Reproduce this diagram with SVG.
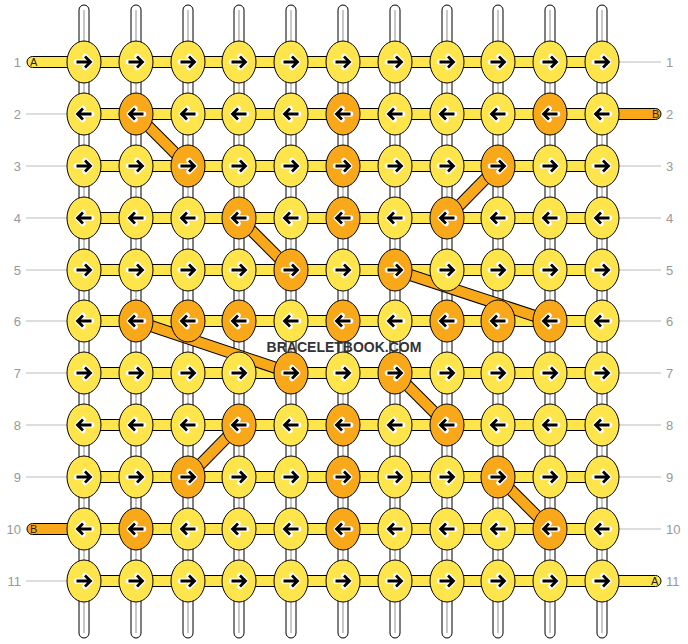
<svg xmlns="http://www.w3.org/2000/svg" xmlns:xlink="http://www.w3.org/1999/xlink" width="688" height="644" viewBox="0 0 688 644">
<style>
.strand{fill:#fff;stroke:#000;stroke-width:1}
.core{stroke:#c8c8c8;stroke-width:2}
.hc{fill:#FFE54C;stroke:#000;stroke-width:1}
.y{fill:#FFE54C;stroke:#000;stroke-width:1}
.o{fill:#F9A81A;stroke:#000;stroke-width:1}
.lbl{font-family:"Liberation Sans",Arial,sans-serif;font-size:13px;fill:#999}
.gl{stroke:#bbb;stroke-width:1}
.sl{font-family:"Liberation Sans",Arial,sans-serif;font-size:11px;fill:#222}
.dout{stroke:#000;stroke-width:12;stroke-linecap:butt}
.din{stroke:#F9A81A;stroke-width:10;stroke-linecap:butt}
</style>
<defs>
<g id="ar"><path d="M-7.5,0H6.5M1,-5.5L6.5,0L1,5.5" fill="none" stroke="#fff" stroke-width="5.5" stroke-linejoin="round" stroke-linecap="round"/><path d="M-7.5,0H6.5M1,-5.5L6.5,0L1,5.5" fill="none" stroke="#000" stroke-width="2.8" stroke-linejoin="miter"/></g>
<g id="al"><path d="M7.5,0H-6.5M-1,-5.5L-6.5,0L-1,5.5" fill="none" stroke="#fff" stroke-width="5.5" stroke-linejoin="round" stroke-linecap="round"/><path d="M7.5,0H-6.5M-1,-5.5L-6.5,0L-1,5.5" fill="none" stroke="#000" stroke-width="2.8" stroke-linejoin="miter"/></g>
</defs>
<rect width="688" height="644" fill="#fff"/>
<g id="vertical-strands">
<rect class="strand" x="79" y="5" width="10" height="633" rx="5"/><line class="core" x1="84" y1="10" x2="84" y2="633"/>
<rect class="strand" x="131" y="5" width="10" height="633" rx="5"/><line class="core" x1="136" y1="10" x2="136" y2="633"/>
<rect class="strand" x="183" y="5" width="10" height="633" rx="5"/><line class="core" x1="188" y1="10" x2="188" y2="633"/>
<rect class="strand" x="234" y="5" width="10" height="633" rx="5"/><line class="core" x1="239" y1="10" x2="239" y2="633"/>
<rect class="strand" x="286" y="5" width="10" height="633" rx="5"/><line class="core" x1="291" y1="10" x2="291" y2="633"/>
<rect class="strand" x="338" y="5" width="10" height="633" rx="5"/><line class="core" x1="343" y1="10" x2="343" y2="633"/>
<rect class="strand" x="390" y="5" width="10" height="633" rx="5"/><line class="core" x1="395" y1="10" x2="395" y2="633"/>
<rect class="strand" x="442" y="5" width="10" height="633" rx="5"/><line class="core" x1="447" y1="10" x2="447" y2="633"/>
<rect class="strand" x="493" y="5" width="10" height="633" rx="5"/><line class="core" x1="498" y1="10" x2="498" y2="633"/>
<rect class="strand" x="545" y="5" width="10" height="633" rx="5"/><line class="core" x1="550" y1="10" x2="550" y2="633"/>
<rect class="strand" x="597" y="5" width="10" height="633" rx="5"/><line class="core" x1="602" y1="10" x2="602" y2="633"/>
</g>
<g id="labels">
<text class="lbl" x="21" y="66.5" text-anchor="end">1</text>
<text class="lbl" x="21" y="118.5" text-anchor="end">2</text>
<text class="lbl" x="21" y="170.5" text-anchor="end">3</text>
<text class="lbl" x="21" y="222.5" text-anchor="end">4</text>
<text class="lbl" x="21" y="274.5" text-anchor="end">5</text>
<text class="lbl" x="21" y="325.5" text-anchor="end">6</text>
<text class="lbl" x="21" y="377.5" text-anchor="end">7</text>
<text class="lbl" x="21" y="429.5" text-anchor="end">8</text>
<text class="lbl" x="21" y="481.5" text-anchor="end">9</text>
<text class="lbl" x="21" y="533.5" text-anchor="end">10</text>
<text class="lbl" x="21" y="585.5" text-anchor="end">11</text>
<text class="lbl" x="666" y="66.5">1</text>
<text class="lbl" x="666" y="118.5">2</text>
<text class="lbl" x="666" y="170.5">3</text>
<text class="lbl" x="666" y="222.5">4</text>
<text class="lbl" x="666" y="274.5">5</text>
<text class="lbl" x="666" y="325.5">6</text>
<text class="lbl" x="666" y="377.5">7</text>
<text class="lbl" x="666" y="429.5">8</text>
<text class="lbl" x="666" y="481.5">9</text>
<text class="lbl" x="666" y="533.5">10</text>
<text class="lbl" x="666" y="585.5">11</text>
<line class="gl" x1="26" y1="114" x2="67" y2="114"/>
<line class="gl" x1="26" y1="166" x2="67" y2="166"/>
<line class="gl" x1="26" y1="218" x2="67" y2="218"/>
<line class="gl" x1="26" y1="270" x2="67" y2="270"/>
<line class="gl" x1="26" y1="321" x2="67" y2="321"/>
<line class="gl" x1="26" y1="373" x2="67" y2="373"/>
<line class="gl" x1="26" y1="425" x2="67" y2="425"/>
<line class="gl" x1="26" y1="477" x2="67" y2="477"/>
<line class="gl" x1="26" y1="581" x2="67" y2="581"/>
<line class="gl" x1="619" y1="62" x2="661" y2="62"/>
<line class="gl" x1="619" y1="166" x2="661" y2="166"/>
<line class="gl" x1="619" y1="218" x2="661" y2="218"/>
<line class="gl" x1="619" y1="270" x2="661" y2="270"/>
<line class="gl" x1="619" y1="321" x2="661" y2="321"/>
<line class="gl" x1="619" y1="373" x2="661" y2="373"/>
<line class="gl" x1="619" y1="425" x2="661" y2="425"/>
<line class="gl" x1="619" y1="477" x2="661" y2="477"/>
<line class="gl" x1="619" y1="529" x2="661" y2="529"/>
</g>
<g id="connectors">
<rect class="hc" x="27" y="56.5" width="70" height="11" rx="5.5"/>
<rect class="o" x="590" y="108.5" width="71" height="11" rx="5.5"/>
<rect class="o" x="27" y="523.5" width="70" height="11" rx="5.5"/>
<rect class="hc" x="590" y="575.5" width="71" height="11" rx="5.5"/>
<rect class="hc" x="84" y="56.5" width="518" height="11"/>
<rect class="hc" x="84" y="108.5" width="518" height="11"/>
<rect class="hc" x="84" y="160.5" width="518" height="11"/>
<rect class="hc" x="84" y="212.5" width="518" height="11"/>
<rect class="hc" x="84" y="264.5" width="518" height="11"/>
<rect class="hc" x="84" y="315.5" width="518" height="11"/>
<rect class="hc" x="84" y="367.5" width="518" height="11"/>
<rect class="hc" x="84" y="419.5" width="518" height="11"/>
<rect class="hc" x="84" y="471.5" width="518" height="11"/>
<rect class="hc" x="84" y="523.5" width="518" height="11"/>
<rect class="hc" x="84" y="575.5" width="518" height="11"/>
<g>
<line class="dout" x1="136" y1="114" x2="188" y2="166"/><line class="din" x1="136" y1="114" x2="188" y2="166"/>
<line class="dout" x1="498" y1="166" x2="447" y2="218"/><line class="din" x1="498" y1="166" x2="447" y2="218"/>
<line class="dout" x1="239" y1="218" x2="291" y2="270"/><line class="din" x1="239" y1="218" x2="291" y2="270"/>
<line class="dout" x1="395" y1="270" x2="550" y2="321"/><line class="din" x1="395" y1="270" x2="550" y2="321"/>
<line class="dout" x1="136" y1="321" x2="291" y2="373"/><line class="din" x1="136" y1="321" x2="291" y2="373"/>
<line class="dout" x1="395" y1="373" x2="447" y2="425"/><line class="din" x1="395" y1="373" x2="447" y2="425"/>
<line class="dout" x1="239" y1="425" x2="188" y2="477"/><line class="din" x1="239" y1="425" x2="188" y2="477"/>
<line class="dout" x1="498" y1="477" x2="550" y2="529"/><line class="din" x1="498" y1="477" x2="550" y2="529"/>
</g>
<text class="sl" x="30" y="66">A</text>
<text class="sl" x="652" y="118">B</text>
<text class="sl" x="30" y="533">B</text>
<text class="sl" x="651" y="585">A</text>
</g>
<g id="row1">
<g id="n1-1"><ellipse class="y" cx="84" cy="62" rx="17" ry="21"/><use xlink:href="#ar" x="84" y="62"/></g>
<g id="n1-2"><ellipse class="y" cx="136" cy="62" rx="17" ry="21"/><use xlink:href="#ar" x="136" y="62"/></g>
<g id="n1-3"><ellipse class="y" cx="188" cy="62" rx="17" ry="21"/><use xlink:href="#ar" x="188" y="62"/></g>
<g id="n1-4"><ellipse class="y" cx="239" cy="62" rx="17" ry="21"/><use xlink:href="#ar" x="239" y="62"/></g>
<g id="n1-5"><ellipse class="y" cx="291" cy="62" rx="17" ry="21"/><use xlink:href="#ar" x="291" y="62"/></g>
<g id="n1-6"><ellipse class="y" cx="343" cy="62" rx="17" ry="21"/><use xlink:href="#ar" x="343" y="62"/></g>
<g id="n1-7"><ellipse class="y" cx="395" cy="62" rx="17" ry="21"/><use xlink:href="#ar" x="395" y="62"/></g>
<g id="n1-8"><ellipse class="y" cx="447" cy="62" rx="17" ry="21"/><use xlink:href="#ar" x="447" y="62"/></g>
<g id="n1-9"><ellipse class="y" cx="498" cy="62" rx="17" ry="21"/><use xlink:href="#ar" x="498" y="62"/></g>
<g id="n1-10"><ellipse class="y" cx="550" cy="62" rx="17" ry="21"/><use xlink:href="#ar" x="550" y="62"/></g>
<g id="n1-11"><ellipse class="y" cx="602" cy="62" rx="17" ry="21"/><use xlink:href="#ar" x="602" y="62"/></g>
</g>
<g id="row2">
<g id="n2-1"><ellipse class="y" cx="84" cy="114" rx="17" ry="21"/><use xlink:href="#al" x="84" y="114"/></g>
<g id="n2-2"><ellipse class="o" cx="136" cy="114" rx="17" ry="21"/><use xlink:href="#al" x="136" y="114"/></g>
<g id="n2-3"><ellipse class="y" cx="188" cy="114" rx="17" ry="21"/><use xlink:href="#al" x="188" y="114"/></g>
<g id="n2-4"><ellipse class="y" cx="239" cy="114" rx="17" ry="21"/><use xlink:href="#al" x="239" y="114"/></g>
<g id="n2-5"><ellipse class="y" cx="291" cy="114" rx="17" ry="21"/><use xlink:href="#al" x="291" y="114"/></g>
<g id="n2-6"><ellipse class="o" cx="343" cy="114" rx="17" ry="21"/><use xlink:href="#al" x="343" y="114"/></g>
<g id="n2-7"><ellipse class="y" cx="395" cy="114" rx="17" ry="21"/><use xlink:href="#al" x="395" y="114"/></g>
<g id="n2-8"><ellipse class="y" cx="447" cy="114" rx="17" ry="21"/><use xlink:href="#al" x="447" y="114"/></g>
<g id="n2-9"><ellipse class="y" cx="498" cy="114" rx="17" ry="21"/><use xlink:href="#al" x="498" y="114"/></g>
<g id="n2-10"><ellipse class="o" cx="550" cy="114" rx="17" ry="21"/><use xlink:href="#al" x="550" y="114"/></g>
<g id="n2-11"><ellipse class="y" cx="602" cy="114" rx="17" ry="21"/><use xlink:href="#al" x="602" y="114"/></g>
</g>
<g id="row3">
<g id="n3-1"><ellipse class="y" cx="84" cy="166" rx="17" ry="21"/><use xlink:href="#ar" x="84" y="166"/></g>
<g id="n3-2"><ellipse class="y" cx="136" cy="166" rx="17" ry="21"/><use xlink:href="#ar" x="136" y="166"/></g>
<g id="n3-3"><ellipse class="o" cx="188" cy="166" rx="17" ry="21"/><use xlink:href="#ar" x="188" y="166"/></g>
<g id="n3-4"><ellipse class="y" cx="239" cy="166" rx="17" ry="21"/><use xlink:href="#ar" x="239" y="166"/></g>
<g id="n3-5"><ellipse class="y" cx="291" cy="166" rx="17" ry="21"/><use xlink:href="#ar" x="291" y="166"/></g>
<g id="n3-6"><ellipse class="o" cx="343" cy="166" rx="17" ry="21"/><use xlink:href="#ar" x="343" y="166"/></g>
<g id="n3-7"><ellipse class="y" cx="395" cy="166" rx="17" ry="21"/><use xlink:href="#ar" x="395" y="166"/></g>
<g id="n3-8"><ellipse class="y" cx="447" cy="166" rx="17" ry="21"/><use xlink:href="#ar" x="447" y="166"/></g>
<g id="n3-9"><ellipse class="o" cx="498" cy="166" rx="17" ry="21"/><use xlink:href="#ar" x="498" y="166"/></g>
<g id="n3-10"><ellipse class="y" cx="550" cy="166" rx="17" ry="21"/><use xlink:href="#ar" x="550" y="166"/></g>
<g id="n3-11"><ellipse class="y" cx="602" cy="166" rx="17" ry="21"/><use xlink:href="#ar" x="602" y="166"/></g>
</g>
<g id="row4">
<g id="n4-1"><ellipse class="y" cx="84" cy="218" rx="17" ry="21"/><use xlink:href="#al" x="84" y="218"/></g>
<g id="n4-2"><ellipse class="y" cx="136" cy="218" rx="17" ry="21"/><use xlink:href="#al" x="136" y="218"/></g>
<g id="n4-3"><ellipse class="y" cx="188" cy="218" rx="17" ry="21"/><use xlink:href="#al" x="188" y="218"/></g>
<g id="n4-4"><ellipse class="o" cx="239" cy="218" rx="17" ry="21"/><use xlink:href="#al" x="239" y="218"/></g>
<g id="n4-5"><ellipse class="y" cx="291" cy="218" rx="17" ry="21"/><use xlink:href="#al" x="291" y="218"/></g>
<g id="n4-6"><ellipse class="o" cx="343" cy="218" rx="17" ry="21"/><use xlink:href="#al" x="343" y="218"/></g>
<g id="n4-7"><ellipse class="y" cx="395" cy="218" rx="17" ry="21"/><use xlink:href="#al" x="395" y="218"/></g>
<g id="n4-8"><ellipse class="o" cx="447" cy="218" rx="17" ry="21"/><use xlink:href="#al" x="447" y="218"/></g>
<g id="n4-9"><ellipse class="y" cx="498" cy="218" rx="17" ry="21"/><use xlink:href="#al" x="498" y="218"/></g>
<g id="n4-10"><ellipse class="y" cx="550" cy="218" rx="17" ry="21"/><use xlink:href="#al" x="550" y="218"/></g>
<g id="n4-11"><ellipse class="y" cx="602" cy="218" rx="17" ry="21"/><use xlink:href="#al" x="602" y="218"/></g>
</g>
<g id="row5">
<g id="n5-1"><ellipse class="y" cx="84" cy="270" rx="17" ry="21"/><use xlink:href="#ar" x="84" y="270"/></g>
<g id="n5-2"><ellipse class="y" cx="136" cy="270" rx="17" ry="21"/><use xlink:href="#ar" x="136" y="270"/></g>
<g id="n5-3"><ellipse class="y" cx="188" cy="270" rx="17" ry="21"/><use xlink:href="#ar" x="188" y="270"/></g>
<g id="n5-4"><ellipse class="y" cx="239" cy="270" rx="17" ry="21"/><use xlink:href="#ar" x="239" y="270"/></g>
<g id="n5-5"><ellipse class="o" cx="291" cy="270" rx="17" ry="21"/><use xlink:href="#ar" x="291" y="270"/></g>
<g id="n5-6"><ellipse class="y" cx="343" cy="270" rx="17" ry="21"/><use xlink:href="#ar" x="343" y="270"/></g>
<g id="n5-7"><ellipse class="o" cx="395" cy="270" rx="17" ry="21"/><use xlink:href="#ar" x="395" y="270"/></g>
<g id="n5-8"><ellipse class="y" cx="447" cy="270" rx="17" ry="21"/><use xlink:href="#ar" x="447" y="270"/></g>
<g id="n5-9"><ellipse class="y" cx="498" cy="270" rx="17" ry="21"/><use xlink:href="#ar" x="498" y="270"/></g>
<g id="n5-10"><ellipse class="y" cx="550" cy="270" rx="17" ry="21"/><use xlink:href="#ar" x="550" y="270"/></g>
<g id="n5-11"><ellipse class="y" cx="602" cy="270" rx="17" ry="21"/><use xlink:href="#ar" x="602" y="270"/></g>
</g>
<g id="row6">
<g id="n6-1"><ellipse class="y" cx="84" cy="321" rx="17" ry="21"/><use xlink:href="#al" x="84" y="321"/></g>
<g id="n6-2"><ellipse class="o" cx="136" cy="321" rx="17" ry="21"/><use xlink:href="#al" x="136" y="321"/></g>
<g id="n6-3"><ellipse class="o" cx="188" cy="321" rx="17" ry="21"/><use xlink:href="#al" x="188" y="321"/></g>
<g id="n6-4"><ellipse class="o" cx="239" cy="321" rx="17" ry="21"/><use xlink:href="#al" x="239" y="321"/></g>
<g id="n6-5"><ellipse class="y" cx="291" cy="321" rx="17" ry="21"/><use xlink:href="#al" x="291" y="321"/></g>
<g id="n6-6"><ellipse class="o" cx="343" cy="321" rx="17" ry="21"/><use xlink:href="#al" x="343" y="321"/></g>
<g id="n6-7"><ellipse class="y" cx="395" cy="321" rx="17" ry="21"/><use xlink:href="#al" x="395" y="321"/></g>
<g id="n6-8"><ellipse class="o" cx="447" cy="321" rx="17" ry="21"/><use xlink:href="#al" x="447" y="321"/></g>
<g id="n6-9"><ellipse class="o" cx="498" cy="321" rx="17" ry="21"/><use xlink:href="#al" x="498" y="321"/></g>
<g id="n6-10"><ellipse class="o" cx="550" cy="321" rx="17" ry="21"/><use xlink:href="#al" x="550" y="321"/></g>
<g id="n6-11"><ellipse class="y" cx="602" cy="321" rx="17" ry="21"/><use xlink:href="#al" x="602" y="321"/></g>
</g>
<g id="row7">
<g id="n7-1"><ellipse class="y" cx="84" cy="373" rx="17" ry="21"/><use xlink:href="#ar" x="84" y="373"/></g>
<g id="n7-2"><ellipse class="y" cx="136" cy="373" rx="17" ry="21"/><use xlink:href="#ar" x="136" y="373"/></g>
<g id="n7-3"><ellipse class="y" cx="188" cy="373" rx="17" ry="21"/><use xlink:href="#ar" x="188" y="373"/></g>
<g id="n7-4"><ellipse class="y" cx="239" cy="373" rx="17" ry="21"/><use xlink:href="#ar" x="239" y="373"/></g>
<g id="n7-5"><ellipse class="o" cx="291" cy="373" rx="17" ry="21"/><use xlink:href="#ar" x="291" y="373"/></g>
<g id="n7-6"><ellipse class="y" cx="343" cy="373" rx="17" ry="21"/><use xlink:href="#ar" x="343" y="373"/></g>
<g id="n7-7"><ellipse class="o" cx="395" cy="373" rx="17" ry="21"/><use xlink:href="#ar" x="395" y="373"/></g>
<g id="n7-8"><ellipse class="y" cx="447" cy="373" rx="17" ry="21"/><use xlink:href="#ar" x="447" y="373"/></g>
<g id="n7-9"><ellipse class="y" cx="498" cy="373" rx="17" ry="21"/><use xlink:href="#ar" x="498" y="373"/></g>
<g id="n7-10"><ellipse class="y" cx="550" cy="373" rx="17" ry="21"/><use xlink:href="#ar" x="550" y="373"/></g>
<g id="n7-11"><ellipse class="y" cx="602" cy="373" rx="17" ry="21"/><use xlink:href="#ar" x="602" y="373"/></g>
</g>
<g id="row8">
<g id="n8-1"><ellipse class="y" cx="84" cy="425" rx="17" ry="21"/><use xlink:href="#al" x="84" y="425"/></g>
<g id="n8-2"><ellipse class="y" cx="136" cy="425" rx="17" ry="21"/><use xlink:href="#al" x="136" y="425"/></g>
<g id="n8-3"><ellipse class="y" cx="188" cy="425" rx="17" ry="21"/><use xlink:href="#al" x="188" y="425"/></g>
<g id="n8-4"><ellipse class="o" cx="239" cy="425" rx="17" ry="21"/><use xlink:href="#al" x="239" y="425"/></g>
<g id="n8-5"><ellipse class="y" cx="291" cy="425" rx="17" ry="21"/><use xlink:href="#al" x="291" y="425"/></g>
<g id="n8-6"><ellipse class="o" cx="343" cy="425" rx="17" ry="21"/><use xlink:href="#al" x="343" y="425"/></g>
<g id="n8-7"><ellipse class="y" cx="395" cy="425" rx="17" ry="21"/><use xlink:href="#al" x="395" y="425"/></g>
<g id="n8-8"><ellipse class="o" cx="447" cy="425" rx="17" ry="21"/><use xlink:href="#al" x="447" y="425"/></g>
<g id="n8-9"><ellipse class="y" cx="498" cy="425" rx="17" ry="21"/><use xlink:href="#al" x="498" y="425"/></g>
<g id="n8-10"><ellipse class="y" cx="550" cy="425" rx="17" ry="21"/><use xlink:href="#al" x="550" y="425"/></g>
<g id="n8-11"><ellipse class="y" cx="602" cy="425" rx="17" ry="21"/><use xlink:href="#al" x="602" y="425"/></g>
</g>
<g id="row9">
<g id="n9-1"><ellipse class="y" cx="84" cy="477" rx="17" ry="21"/><use xlink:href="#ar" x="84" y="477"/></g>
<g id="n9-2"><ellipse class="y" cx="136" cy="477" rx="17" ry="21"/><use xlink:href="#ar" x="136" y="477"/></g>
<g id="n9-3"><ellipse class="o" cx="188" cy="477" rx="17" ry="21"/><use xlink:href="#ar" x="188" y="477"/></g>
<g id="n9-4"><ellipse class="y" cx="239" cy="477" rx="17" ry="21"/><use xlink:href="#ar" x="239" y="477"/></g>
<g id="n9-5"><ellipse class="y" cx="291" cy="477" rx="17" ry="21"/><use xlink:href="#ar" x="291" y="477"/></g>
<g id="n9-6"><ellipse class="o" cx="343" cy="477" rx="17" ry="21"/><use xlink:href="#ar" x="343" y="477"/></g>
<g id="n9-7"><ellipse class="y" cx="395" cy="477" rx="17" ry="21"/><use xlink:href="#ar" x="395" y="477"/></g>
<g id="n9-8"><ellipse class="y" cx="447" cy="477" rx="17" ry="21"/><use xlink:href="#ar" x="447" y="477"/></g>
<g id="n9-9"><ellipse class="o" cx="498" cy="477" rx="17" ry="21"/><use xlink:href="#ar" x="498" y="477"/></g>
<g id="n9-10"><ellipse class="y" cx="550" cy="477" rx="17" ry="21"/><use xlink:href="#ar" x="550" y="477"/></g>
<g id="n9-11"><ellipse class="y" cx="602" cy="477" rx="17" ry="21"/><use xlink:href="#ar" x="602" y="477"/></g>
</g>
<g id="row10">
<g id="n10-1"><ellipse class="y" cx="84" cy="529" rx="17" ry="21"/><use xlink:href="#al" x="84" y="529"/></g>
<g id="n10-2"><ellipse class="o" cx="136" cy="529" rx="17" ry="21"/><use xlink:href="#al" x="136" y="529"/></g>
<g id="n10-3"><ellipse class="y" cx="188" cy="529" rx="17" ry="21"/><use xlink:href="#al" x="188" y="529"/></g>
<g id="n10-4"><ellipse class="y" cx="239" cy="529" rx="17" ry="21"/><use xlink:href="#al" x="239" y="529"/></g>
<g id="n10-5"><ellipse class="y" cx="291" cy="529" rx="17" ry="21"/><use xlink:href="#al" x="291" y="529"/></g>
<g id="n10-6"><ellipse class="o" cx="343" cy="529" rx="17" ry="21"/><use xlink:href="#al" x="343" y="529"/></g>
<g id="n10-7"><ellipse class="y" cx="395" cy="529" rx="17" ry="21"/><use xlink:href="#al" x="395" y="529"/></g>
<g id="n10-8"><ellipse class="y" cx="447" cy="529" rx="17" ry="21"/><use xlink:href="#al" x="447" y="529"/></g>
<g id="n10-9"><ellipse class="y" cx="498" cy="529" rx="17" ry="21"/><use xlink:href="#al" x="498" y="529"/></g>
<g id="n10-10"><ellipse class="o" cx="550" cy="529" rx="17" ry="21"/><use xlink:href="#al" x="550" y="529"/></g>
<g id="n10-11"><ellipse class="y" cx="602" cy="529" rx="17" ry="21"/><use xlink:href="#al" x="602" y="529"/></g>
</g>
<g id="row11">
<g id="n11-1"><ellipse class="y" cx="84" cy="581" rx="17" ry="21"/><use xlink:href="#ar" x="84" y="581"/></g>
<g id="n11-2"><ellipse class="y" cx="136" cy="581" rx="17" ry="21"/><use xlink:href="#ar" x="136" y="581"/></g>
<g id="n11-3"><ellipse class="y" cx="188" cy="581" rx="17" ry="21"/><use xlink:href="#ar" x="188" y="581"/></g>
<g id="n11-4"><ellipse class="y" cx="239" cy="581" rx="17" ry="21"/><use xlink:href="#ar" x="239" y="581"/></g>
<g id="n11-5"><ellipse class="y" cx="291" cy="581" rx="17" ry="21"/><use xlink:href="#ar" x="291" y="581"/></g>
<g id="n11-6"><ellipse class="y" cx="343" cy="581" rx="17" ry="21"/><use xlink:href="#ar" x="343" y="581"/></g>
<g id="n11-7"><ellipse class="y" cx="395" cy="581" rx="17" ry="21"/><use xlink:href="#ar" x="395" y="581"/></g>
<g id="n11-8"><ellipse class="y" cx="447" cy="581" rx="17" ry="21"/><use xlink:href="#ar" x="447" y="581"/></g>
<g id="n11-9"><ellipse class="y" cx="498" cy="581" rx="17" ry="21"/><use xlink:href="#ar" x="498" y="581"/></g>
<g id="n11-10"><ellipse class="y" cx="550" cy="581" rx="17" ry="21"/><use xlink:href="#ar" x="550" y="581"/></g>
<g id="n11-11"><ellipse class="y" cx="602" cy="581" rx="17" ry="21"/><use xlink:href="#ar" x="602" y="581"/></g>
</g>
<text id="watermark" x="344" y="352" text-anchor="middle" font-family="'Liberation Sans',Arial,sans-serif" font-weight="bold" font-size="14" fill="#333">BRACELETBOOK.COM</text>
</svg>
